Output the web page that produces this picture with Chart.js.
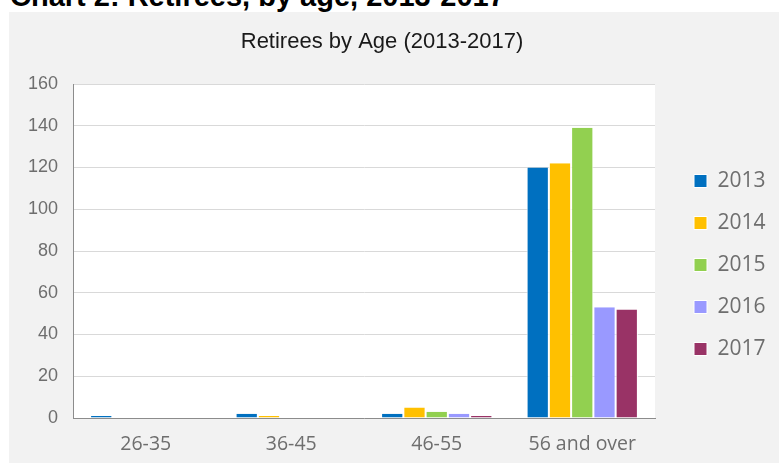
<!DOCTYPE html>
<html lang="en">
<head>
    <meta charset="UTF-8">
    <title>Retirees by Age (2013-2017)</title>
    <script src="https://cdn.jsdelivr.net/npm/chart.js"></script>
    <style>
        body { margin: 0; background: #fff; width: 779px; height: 463px; overflow: hidden; position: relative; }
        #heading { position: absolute; left: 10px; top: -18px; font: bold 29px "Liberation Sans", Arial, sans-serif; line-height: 29px; color: #000; white-space: nowrap; }
        #box { position: absolute; left: 9px; top: 12px; width: 770px; height: 451px; background: #f2f2f2; }
    </style>
</head>
<body>
    <div id="heading">Chart 2: Retirees, by age, 2013-2017</div>
    <div id="box"><canvas id="Chart" width="770" height="451"></canvas></div>

    <script>
        // data
        const ageGroups = ['26-35', '36-45', '46-55', '56 and over'];
        const years = ['2013', '2014', '2015', '2016', '2017'];
        const retirees2013 = [1, 2, 2, 120];
        const retirees2014 = [0, 1, 5, 122];
        const retirees2015 = [0, 0, 3, 139];
        const retirees2016 = [0, 0, 2, 53];
        const retirees2017 = [0, 0, 1, 52];
        const yMax = 160;
        const yStep = 20;

        const seriesValues = [retirees2013, retirees2014, retirees2015, retirees2016, retirees2017];
        const barColors = ['#0070c0', '#ffc000', '#92d050', '#9999ff', '#993366'];
        const textGray = '#6e6e6e';

        // white plot area on the grey chart background
        const plotBackground = {
            id: 'plotBackground',
            beforeDraw(chart) {
                const { ctx, chartArea: a } = chart;
                ctx.save();
                ctx.fillStyle = '#ffffff';
                ctx.fillRect(a.left, a.top, a.right - a.left, a.bottom - a.top);
                ctx.restore();
            }
        };

        // nudge the legend a bit right and down, like the original
        const legendOffset = {
            id: 'legendOffset',
            afterLayout(chart) {
                const lg = chart.legend;
                lg.left += 18; lg.right += 18;
                lg.top += 14; lg.bottom += 14;
            }
        };

        const ctx = document.getElementById('Chart');
        new Chart(ctx, {
            type: 'bar',
            data: {
                labels: ageGroups,
                datasets: years.map((y, i) => ({
                    label: y,
                    data: seriesValues[i],
                    backgroundColor: barColors[i],
                    borderColor: '#ffffff',
                    borderWidth: { left: 1, right: 1, top: 0, bottom: 0 },
                    categoryPercentage: 0.765,
                    barPercentage: 1
                }))
            },
            options: {
                responsive: false,
                animation: false,
                layout: { padding: { left: 0, top: 0, right: 24, bottom: 0 } },
                plugins: {
                    title: {
                        display: true,
                        text: 'Retirees by Age (2013-2017)',
                        color: '#1a1a1a',
                        font: { family: 'Liberation Sans', size: 22, weight: 'normal', lineHeight: 1.2 },
                        padding: { top: 17, bottom: 28.6 }
                    },
                    legend: {
                        position: 'right',
                        fullSize: false,
                        maxWidth: 100,
                        labels: {
                            boxWidth: 13,
                            boxHeight: 13,
                            padding: 21,
                            color: textGray,
                            font: { family: 'Open Sans', size: 21 },
                            generateLabels(chart) {
                                const items = Chart.defaults.plugins.legend.labels.generateLabels(chart);
                                items.forEach(it => { it.lineWidth = 1; it.strokeStyle = '#ffffff'; });
                                return items;
                            }
                        }
                    },
                    tooltip: { enabled: false }
                },
                scales: {
                    x: {
                        grid: { display: false, drawTicks: false },
                        border: { display: true, color: '#8c8c8c', width: 1 },
                        ticks: {
                            color: textGray,
                            font: { family: 'Open Sans', size: 19.5 },
                            padding: 15,
                            maxRotation: 0,
                            autoSkip: false
                        },
                        afterFit(s) { s.height = 45; }
                    },
                    y: {
                        min: 0,
                        max: yMax,
                        grid: { color: '#d9d9d9', drawTicks: false },
                        border: { color: '#8c8c8c', width: 1 },
                        ticks: {
                            stepSize: yStep,
                            color: textGray,
                            font: { family: 'Liberation Sans', size: 18 },
                            padding: 15
                        },
                        afterFit(s) { s.width = 64; }
                    }
                }
            },
            plugins: [plotBackground, legendOffset]
        });
    </script>
</body>
</html>
